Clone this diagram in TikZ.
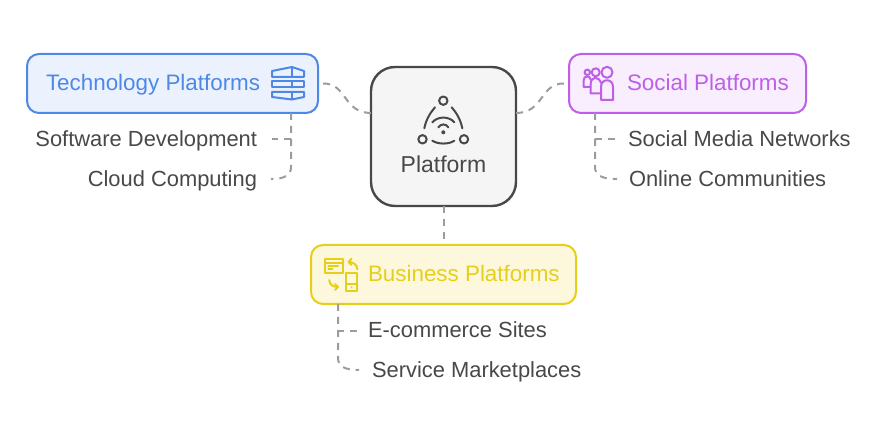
\documentclass[tikz,border=0pt]{standalone}
\usepackage{fontspec}
\setmainfont{Liberation Sans}
\definecolor{ink}{HTML}{484848}
\definecolor{link}{HTML}{9C9C9C}
\definecolor{bluec}{HTML}{4E88E7}\definecolor{bluef}{HTML}{EBF2FD}
\definecolor{purc}{HTML}{BD5FE8}\definecolor{purf}{HTML}{F8EEFD}
\definecolor{yelc}{HTML}{E6CF1B}\definecolor{yelf}{HTML}{FDF8DB}
\tikzset{x=1pt,y=-1pt,
 boxn/.style={draw,line width=2pt,rounded corners=12pt,inner sep=0pt,outer sep=0pt,anchor=north west},
 lab/.style={font=\fontsize{22.4}{24}\selectfont,inner sep=0pt,outer sep=0pt},
 sub/.style={font=\fontsize{21.9}{24}\selectfont,inner sep=0pt,outer sep=0pt,text=ink},
 conn/.style={draw=link,line width=2pt,dash pattern=on 7pt off 6pt},
 icon/.style={line width=2pt,line join=round,line cap=round},
}
\begin{document}
\begin{tikzpicture}
\useasboundingbox (0,0) rectangle (887,438);
\node[boxn,draw=bluec,fill=bluef,minimum width=291pt,minimum height=59pt] (tech) at (27,54) {};
\node[boxn,draw=purc,fill=purf,minimum width=237pt,minimum height=59pt] (soc) at (569,54) {};
\node[boxn,draw=yelc,fill=yelf,minimum width=265pt,minimum height=59pt] (bus) at (311,245) {};
\node[boxn,draw=ink,fill=black!4,line width=2.4pt,rounded corners=24pt,minimum width=145pt,minimum height=139pt] (plat) at (371,67) {};
% labels
\node[lab,text=ink,font=\fontsize{23}{24}\selectfont,anchor=base] (platl) at (443.5,173) {Platform};
\node[lab,text=bluec,anchor=base west] (techl) at (46,91) {Technology Platforms};
\node[lab,text=purc,anchor=base west] (socl) at (627,91) {Social Platforms};
\node[lab,text=yelc,anchor=base west] (busl) at (368,282) {Business Platforms};
\node[sub,anchor=base east] (sd) at (257,147) {Software Development};
\node[sub,anchor=base east] (cc) at (257,187) {Cloud Computing};
\node[sub,anchor=base west] (smn) at (628,147) {Social Media Networks};
\node[sub,anchor=base west] (oc) at (629,187) {Online Communities};
\node[sub,anchor=base west] (ec) at (368,338) {E-commerce Sites};
\node[sub,anchor=base west] (sm) at (372,378) {Service Marketplaces};
% connector ends
\coordinate (tr) at ([xshift=5pt]tech.east);
\coordinate (sl) at ([xshift=-5pt]soc.west);
\coordinate (pw) at (371,113);
\coordinate (pe) at (516,113);
\coordinate (bt) at (443.5,242);
\coordinate (sdend) at ([xshift=15pt,yshift=8pt]sd.base east);
\coordinate (ccend) at ([xshift=14pt,yshift=8pt]cc.base east);
\coordinate (smnend) at ([xshift=-13pt,yshift=8pt]smn.base west);
\coordinate (ocend) at ([xshift=-12pt,yshift=8pt]oc.base west);
\coordinate (ecend) at ([xshift=-10pt,yshift=7pt]ec.base west);
\coordinate (smend) at ([xshift=-13pt,yshift=8pt]sm.base west);
\path[conn] (tr) .. controls (347,83) and (343,113) .. (pw);
\path[conn] (sl) .. controls (540,83) and (544,113) .. (pe);
\path[conn] (plat.south) -- (bt);
\path[conn] (291,113) |- (sdend);
\path[conn] (291,113) -- (291,167) .. controls (291,175) and (285,179) .. (ccend);
\path[conn] (595,113) |- (smnend);
\path[conn] (595,113) -- (595,167) .. controls (595,175) and (601,179) .. (ocend);
\path[conn] (338,304) |- (ecend);
\path[conn] (338,304) -- (338,358) .. controls (338,366) and (344,370) .. (smend);
% platform icon
\begin{scope}[icon,draw=ink]
\draw (443.3,100.7) circle (4.2);
\draw (422.5,139.3) circle (4.2);
\draw (464,139.3) circle (4.2);
\draw (435,107.3) .. controls (430,113) and (426,120) .. (424.3,128.3);
\draw (451.7,107.3) .. controls (456.7,113) and (460.7,120) .. (462.3,128.3);
\draw (432.3,140.7) .. controls (438,144.5) and (449,144.5) .. (454.3,140.7);
\draw (432.3,122.3) .. controls (438,116) and (449,116) .. (454.3,122.3);
\draw (438.3,127.3) .. controls (441,123.5) and (446,123.5) .. (448.3,127.3);
\fill[ink] (443.3,132.3) circle (2);
\end{scope}
% tech icon
\begin{scope}[icon,draw=bluec]
\draw (272,71) -- (292,67) -- (304,71) -- (304,77) -- (272,77) -- cycle;
\draw (272,81) -- (304,81) -- (304,87.5) -- (272,87.5) -- cycle;
\draw (272,92) -- (304,92) -- (304,97) -- (292,99.5) -- (272,97) -- cycle;
\draw (292,67) -- (292,77) (292,81) -- (292,87.5) (292,92) -- (292,99.5);
\end{scope}
% social icon
\begin{scope}[icon,draw=purc]
\draw (587.3,72.3) circle (2.7);
\draw (595.7,72.3) circle (4);
\draw (607,72.3) circle (5.5);
\draw (601,100) -- (601,87) .. controls (601,78) and (613,78) .. (613,87) -- (613,100) -- cycle;
\draw (601,93.5) -- (590.7,93.5) -- (590.7,84) .. controls (590.7,76) and (599,76) .. (601,83);
\draw (590.7,87) -- (583.5,87) -- (583.5,81) .. controls (583.5,75) and (590,75) .. (591,80);
\end{scope}
% business icon
\begin{scope}[icon,draw=yelc]
\draw (325,259.3) rectangle (343.3,273);
\draw (325,263.5) -- (343.3,263.5);
\draw (328.3,266.5) -- (338,266.5) (328.3,269.5) -- (332.3,269.5);
\draw (346,272.7) rectangle (357.3,290.7);
\draw (346,284) -- (357.3,284);
\fill[yelc] (351.6,287.3) circle (1);
\draw (357.3,269.3) .. controls (357.3,264.5) and (353,262) .. (348.8,262);
\draw (351.5,258.8) -- (348.5,262) -- (351.5,265);
\draw (329.3,280) .. controls (329.3,284.5) and (333,287) .. (338,287);
\draw (335,284) -- (338,287) -- (335,290);
\end{scope}
\end{tikzpicture}
\end{document}
